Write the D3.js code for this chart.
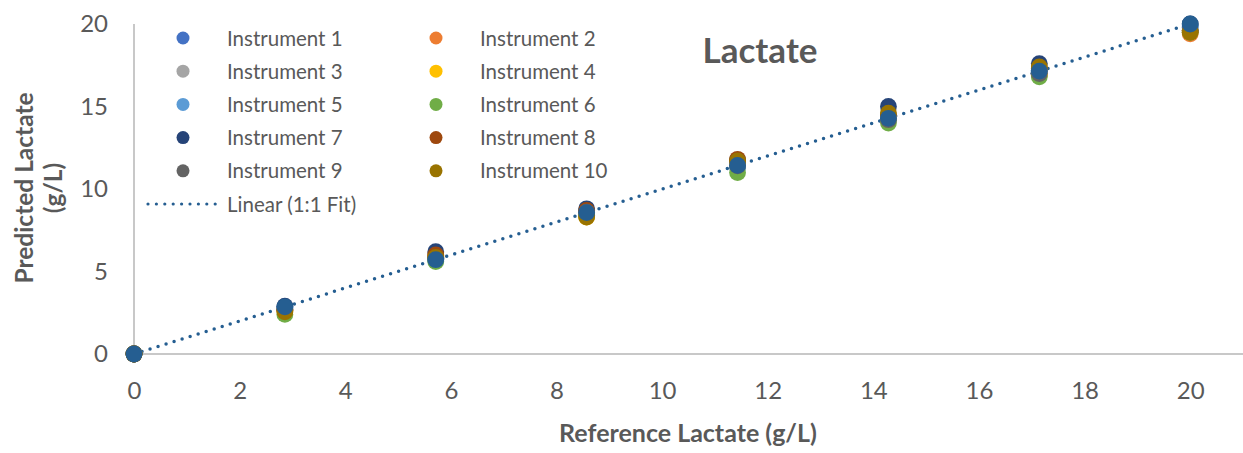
<!DOCTYPE html>
<html>
<head>
<meta charset="utf-8">
<script src="https://cdn.jsdelivr.net/npm/d3@7"></script>
<style>
  html, body { margin: 0; padding: 0; background: #fff; }
  svg { display: block; font-family: Lato, "Open Sans", sans-serif; }
</style>
</head>
<body>
<svg id="chart" width="1243" height="453"></svg>
<script>
// ---- data ----
const referenceValues = [0, 2.857, 5.714, 8.571, 11.429, 14.286, 17.143, 20];
const seriesNames = ["Instrument 1","Instrument 2","Instrument 3","Instrument 4","Instrument 5",
                     "Instrument 6","Instrument 7","Instrument 8","Instrument 9","Instrument 10"];
const seriesColors = ["#4472C4","#ED7D31","#A5A5A5","#FFC000","#5B9BD5",
                      "#70AD47","#264478","#9E480E","#636363","#997300"];
const inst1  = [0, 2.80, 5.80, 8.60, 11.50, 14.40, 17.20, 19.90];
const inst2  = [0, 2.70, 5.95, 8.40, 11.60, 14.30, 17.00, 19.40];
const inst3  = [0, 2.75, 5.75, 8.50, 11.40, 14.20, 17.10, 19.70];
const inst4  = [0, 2.60, 5.90, 8.30, 11.50, 14.40, 16.90, 19.60];
const inst5  = [0, 2.80, 5.70, 8.60, 11.30, 14.30, 17.20, 19.80];
const inst6  = [0, 2.40, 5.60, 8.40, 11.00, 14.00, 16.80, 19.50];
const inst7  = [0, 2.90, 6.20, 8.80, 11.75, 15.00, 17.60, 20.00];
const inst8  = [0, 2.65, 6.00, 8.70, 11.80, 14.50, 17.30, 19.60];
const inst9  = [0, 2.70, 5.80, 8.60, 11.40, 14.20, 17.00, 19.60];
const inst10 = [0, 2.55, 5.85, 8.30, 11.70, 14.60, 17.40, 19.50];
const fitValues = [0, 2.857, 5.714, 8.571, 11.429, 14.286, 17.143, 20];
const fitName = "Linear (1:1 Fit)";
const fitColor = "#255E91";
const xTicks = [0, 2, 4, 6, 8, 10, 12, 14, 16, 18, 20];
const yTicks = [0, 5, 10, 15, 20];
const chartTitle = "Lactate";
const xTitle = "Reference Lactate (g/L)";
const yTitleLines = ["Predicted Lactate", "(g/L)"];

const instruments = [inst1, inst2, inst3, inst4, inst5, inst6, inst7, inst8, inst9, inst10];

// ---- layout ----
const svg = d3.select("#chart");
const plotLeft = 134, plotRight = 1243, plotTop = 24, plotBottom = 354;
const x = d3.scaleLinear().domain([0, 21]).range([plotLeft, plotRight]);
const y = d3.scaleLinear().domain([0, 20]).range([plotBottom, plotTop]);
const textColor = "#595959";
const axisColor = "#C8C8C8";

// axes
const xAxis = svg.append("g").attr("transform", `translate(0,${plotBottom})`)
  .call(d3.axisBottom(x).tickValues(xTicks).tickSize(0).tickPadding(28).tickFormat(d3.format("d")));
const yAxis = svg.append("g").attr("transform", `translate(${plotLeft},0)`)
  .call(d3.axisLeft(y).tickValues(yTicks).tickSize(0).tickPadding(26).tickFormat(d3.format("d")));
[xAxis, yAxis].forEach(g => {
  g.select(".domain").attr("stroke", axisColor).attr("stroke-width", 2);
  g.selectAll("text").attr("fill", textColor).style("font-size", "24px").style("font-family", "Lato, sans-serif");
});
xAxis.select(".domain").attr("d", `M${plotLeft},0H${plotRight}`);
yAxis.select(".domain").attr("d", `M0,${plotTop}V${plotBottom}`);

// trendline
svg.append("line")
  .attr("x1", x(0)).attr("y1", y(0)).attr("x2", x(20)).attr("y2", y(20))
  .attr("stroke", fitColor).attr("stroke-width", 3.5)
  .attr("stroke-dasharray", "0 8.4").attr("stroke-linecap", "round");

// points
instruments.forEach((vals, i) => {
  svg.append("g").selectAll("circle").data(vals).join("circle")
    .attr("cx", (d, j) => x(referenceValues[j]))
    .attr("cy", d => y(d))
    .attr("r", 8.4)
    .attr("fill", seriesColors[i]);
});
svg.append("g").selectAll("circle").data(fitValues).join("circle")
  .attr("cx", (d, j) => x(referenceValues[j]))
  .attr("cy", d => y(d))
  .attr("r", 8.4)
  .attr("fill", fitColor);

// title
svg.append("text").attr("x", 760).attr("y", 63).attr("text-anchor", "middle")
  .attr("fill", textColor).style("font-size", "35px").style("font-weight", "bold").text(chartTitle);

// x title
svg.append("text").attr("x", 688).attr("y", 442).attr("text-anchor", "middle")
  .attr("fill", textColor).style("font-size", "25px").style("font-weight", "bold").text(xTitle);

// y title
const yt = svg.append("text").attr("transform", "translate(33,188) rotate(-90)")
  .attr("text-anchor", "middle").attr("fill", textColor)
  .style("font-size", "24.5px").style("font-weight", "bold");
yTitleLines.forEach((t, i) => {
  yt.append("tspan").attr("x", 0).attr("dy", i === 0 ? 0 : 29).text(t);
});

// legend
const legend = svg.append("g");
seriesNames.forEach((name, i) => {
  const col = i % 2, row = Math.floor(i / 2);
  const mx = col === 0 ? 183 : 436;
  const ty = 38 + row * 33.2;
  legend.append("circle").attr("cx", mx).attr("cy", ty).attr("r", 6.5).attr("fill", seriesColors[i]);
  legend.append("text").attr("x", mx + 44).attr("y", ty + 7.5).attr("fill", textColor)
    .style("font-size", "20.5px").text(name);
});
legend.append("line").attr("x1", 148).attr("x2", 216).attr("y1", 204).attr("y2", 204)
  .attr("stroke", fitColor).attr("stroke-width", 3.2)
  .attr("stroke-dasharray", "0 8.4").attr("stroke-linecap", "round");
legend.append("text").attr("x", 227).attr("y", 211.5).attr("fill", textColor)
  .style("font-size", "20.5px").text(fitName);
</script>
</body>
</html>
